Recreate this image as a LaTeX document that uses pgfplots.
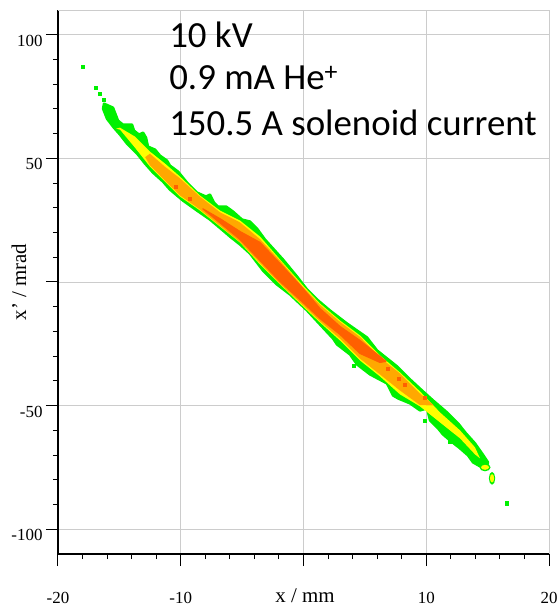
\documentclass[border=0pt]{standalone}
\usepackage{fontspec}
\setmainfont{Liberation Serif}
\newfontfamily\calibri{Carlito}
\usepackage{pgfplots}
\pgfplotsset{compat=1.18}
\definecolor{cgreen}{RGB}{0,240,0}
\definecolor{cyellow}{RGB}{255,255,0}
\definecolor{corange}{RGB}{255,168,0}
\definecolor{cred}{RGB}{255,96,0}
\definecolor{cgrid}{RGB}{204,204,204}
\begin{document}
\begin{tikzpicture}
\begin{axis}[
  name=ax,
  scale only axis, width=491bp, height=544bp,
  xmin=-20, xmax=20, ymin=-110, ymax=110,
  xtick={-20,-10,0,10,20}, ytick={-100,-50,0,50,100},
  xticklabels={-20,-10,,10,20}, yticklabels={-100,-50,,50,100},
  minor x tick num=4, minor y tick num=4,
  axis lines*=left, axis line style={-, black, line width=1.2bp},
  tick align=outside,
  major tick length=12bp, minor tick length=5bp,
  every tick/.style={black, line width=1bp},
  grid=major, grid style={cgrid, line width=0.9bp},
  ticklabel style={font=\fontsize{17}{20}\selectfont},
  xticklabel style={yshift=-22.5bp},
  yticklabel style={yshift=-6bp},
  xlabel={x / mm}, ylabel={x' / mrad},
  label style={font=\fontsize{21}{24}\selectfont},
  xlabel style={at={(axis description cs:0.503,-0.0772)}, anchor=center},
  ylabel style={at={(axis description cs:-0.0794,0.5)}, anchor=center},
]
\draw[cgrid, line width=0.9bp] (rel axis cs:0,1) -- (rel axis cs:1,1) -- (rel axis cs:1,0);
% green (outer contour)
\addplot[fill=cgreen, draw=cgreen, line width=2.5bp, line join=round] coordinates {
(-16.25,72.12) (-15.52,70.51) (-15.11,65.25) (-14.71,63.64) (-13.97,63.64)
(-13.81,61.21) (-13.40,59.60) (-13.07,60.40) (-12.83,58.38) (-12.67,54.75)
(-12.10,53.54) (-11.69,51.11) (-11.12,49.09) (-10.88,47.07) (-10.22,44.65)
(-9.49,40.20) (-8.68,36.16) (-7.94,34.55) (-7.62,35.35) (-7.29,32.12)
(-6.97,30.51) (-6.31,30.51) (-5.74,28.48) (-5.01,25.25) (-4.36,24.44)
(-3.79,21.62) (-3.14,17.17) (-2.48,13.54) (-1.67,9.09) (-0.53,2.22)
(0.29,-3.03) (1.10,-7.07) (2.16,-11.52) (3.54,-16.77) (5.17,-22.42)
(5.99,-27.68) (7.62,-34.14) (8.68,-39.39) (9.74,-44.24) (10.55,-47.88)
(11.69,-52.73) (12.59,-57.17) (13.24,-61.21) (13.97,-65.25) (14.54,-69.29)
(15.03,-72.93) (14.87,-75.35)
(14.38,-74.55) (13.81,-72.93) (13.40,-70.10) (12.75,-67.27) (11.93,-64.04)
(11.36,-61.62) (10.96,-59.19) (10.31,-55.96) (10.06,-51.11) (9.49,-51.92)
(8.68,-49.09) (7.70,-47.07) (7.29,-45.86) (6.80,-41.01) (5.42,-37.37)
(4.36,-33.33) (3.79,-29.29) (2.73,-25.25) (2.40,-22.83) (1.34,-17.17)
(0.29,-11.52) (-1.10,-5.05) (-2.16,-1.01) (-3.30,4.65) (-4.36,11.52)
(-5.17,15.15) (-5.99,18.38) (-6.56,20.81) (-7.62,25.25) (-8.68,28.89)
(-9.82,32.93) (-10.88,37.37) (-11.45,40.61) (-12.26,44.24) (-12.91,47.88)
(-13.56,51.92) (-14.38,55.96) (-14.95,59.60) (-15.52,62.83) (-16.01,66.06)
(-16.33,70.10)
} -- cycle;
\addplot[fill=cgreen, draw=none] coordinates {
(15.24,-74.95) (15.11,-73.82) (14.79,-73.35) (14.47,-73.82) (14.34,-74.95) (14.47,-76.08) (14.79,-76.55) (15.11,-76.08)
} -- cycle;
\addplot[fill=cgreen, draw=none] coordinates {
(15.62,-79.39) (15.54,-77.55) (15.36,-76.79) (15.18,-77.55) (15.10,-79.39) (15.18,-81.23) (15.36,-81.99) (15.54,-81.23)
} -- cycle;
\addplot[only marks, mark=square*, mark size=1.6bp, cgreen] coordinates {
(-17.96,87.07) (-16.90,78.59) (-16.58,76.16) (-16.25,73.74) (16.58,-89.49) (11.93,-64.6) (4.1,-34.0) (9.9,-56.0)
};
% yellow
\addplot[fill=cyellow, draw=none] coordinates {
(-15.27,62.02) (-14.95,62.42) (-13.73,58.79) (-12.51,52.73) (-11.28,47.88)
(-10.06,42.63) (-8.43,34.95) (-6.80,28.89) (-5.17,24.85) (-3.54,18.38)
(-1.91,9.09) (-0.04,-1.41) (1.34,-8.69) (2.97,-15.56) (4.60,-21.62)
(6.23,-29.70) (7.86,-36.57) (9.49,-44.24) (11.12,-52.73) (12.75,-60.00)
(13.97,-66.87) (14.38,-71.31)
(13.97,-69.70) (12.75,-63.23) (11.12,-56.77) (9.49,-50.30) (7.86,-45.45)
(6.23,-38.18) (4.60,-31.72) (2.97,-23.64) (1.34,-16.36) (-0.04,-9.90)
(-1.91,-1.01) (-3.54,7.07) (-5.17,15.96) (-6.80,22.42) (-8.43,28.89)
(-10.06,34.55) (-11.28,40.61) (-12.51,46.67) (-13.73,54.34) (-14.95,61.62)
} -- cycle;
\addplot[fill=cyellow, draw=none] coordinates {
(15.12,-74.95) (15.02,-74.24) (14.79,-73.95) (14.56,-74.24) (14.46,-74.95) (14.56,-75.66) (14.79,-75.95) (15.02,-75.66)
} -- cycle;
\addplot[fill=cyellow, draw=none] coordinates {
(15.53,-79.39) (15.48,-78.19) (15.36,-77.69) (15.24,-78.19) (15.19,-79.39) (15.24,-80.59) (15.36,-81.09) (15.48,-80.59)
} -- cycle;
% orange
\addplot[fill=corange, draw=none] coordinates {
(-12.90,50.5) (-12.51,51.9) (-11.28,46.6) (-10.06,41.9) (-8.43,34.5)
(-6.80,28.2) (-5.17,24.1) (-3.54,17.3) (-1.91,8.6) (-0.04,-2.0)
(1.34,-9.2) (2.97,-16.1) (4.60,-22.2) (6.23,-30.5) (7.86,-37.0)
(9.49,-45.1) (10.63,-49.90)
(9.49,-49.8) (7.86,-43.9) (6.23,-37.4) (4.60,-31.0) (2.97,-22.9)
(1.34,-15.9) (-0.04,-9.4) (-1.91,-0.8) (-3.54,7.6) (-5.17,16.1)
(-6.80,22.7) (-8.43,29.3) (-10.06,35.0) (-11.28,41.0) (-12.51,47.2)
} -- cycle;
% red core
\addplot[fill=cred, draw=cred, line width=1.2bp, line join=round] coordinates {
(-8.2,29.6) (-6.8,25.6) (-5.17,20.4) (-3.54,16.0) (-1.91,7.47) (-0.04,-2.63)
(1.34,-10.71) (2.97,-17.98) (4.60,-23.64) (6.23,-30.10) (6.72,-32.12)
(6.23,-32.53) (4.60,-28.89) (2.97,-21.21) (1.34,-14.75) (-0.04,-8.28)
(-1.91,0.20) (-3.54,8.69) (-5.17,17.2) (-6.8,23.9)
} -- cycle;
\addplot[only marks, mark=square*, mark size=1.5bp, cred] coordinates {
(-9.3,33.6) (-10.4,38.4) (6.88,-34.95) (7.78,-38.99) (8.27,-41.41) (9.9,-46.8)
};
\node[anchor=base west, inner sep=0, font=\calibri\fontsize{37}{41}\selectfont] at (axis cs:-10.95,94.75) {10 kV};
\node[anchor=base west, inner sep=0, font=\calibri\fontsize{37}{41}\selectfont] at (axis cs:-10.95,77.8) {0.9 mA He\textsuperscript{+}};
\node[anchor=base west, inner sep=0, font=\calibri\fontsize{37}{41}\selectfont] at (axis cs:-10.95,59.4) {150.5 A solenoid current};
\end{axis}
\pgfresetboundingbox
\path[use as bounding box] ([xshift=-58bp,yshift=-55bp]ax.south west) rectangle ([xshift=9bp,yshift=10bp]ax.north east);
\end{tikzpicture}
\end{document}
